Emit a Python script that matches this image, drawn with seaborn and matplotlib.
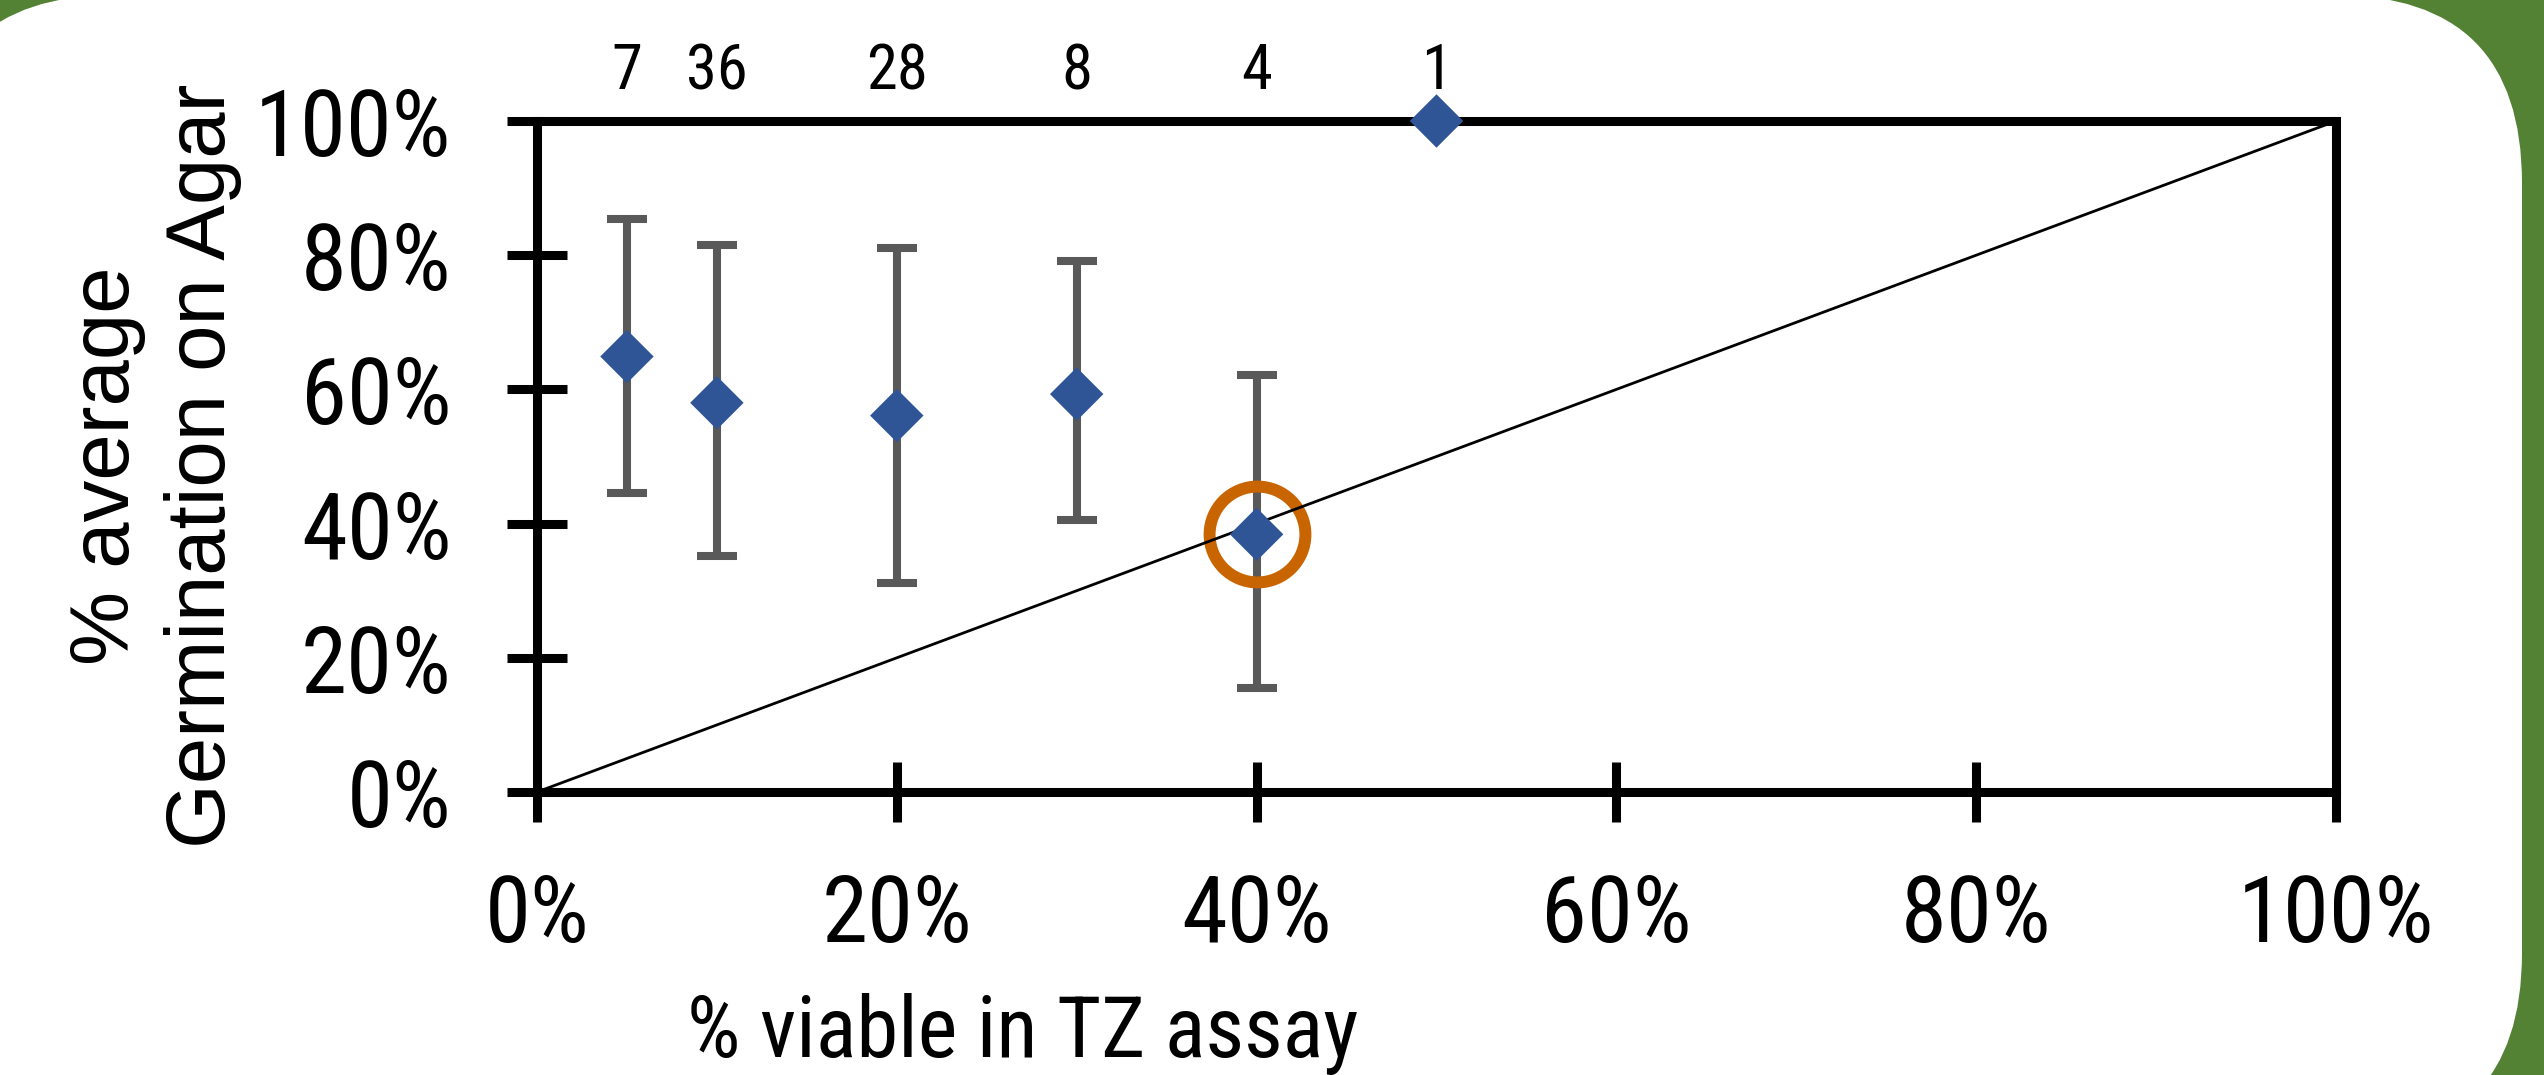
import numpy as np
import pandas as pd
import matplotlib
matplotlib.use("Agg")
import matplotlib.pyplot as plt
import seaborn as sns
from matplotlib import font_manager as fm
from matplotlib.patches import FancyBboxPatch

# ---------------- data ----------------
viability = [5, 10, 20, 30, 40, 50]                 # % viable in TZ assay
germination = [64.9, 58.0, 56.1, 59.3, 38.4, 100.0]  # % average germination on agar
err_lower = [44.5, 35.2, 31.1, 40.5, 15.5, 100.0]
err_upper = [85.4, 81.5, 81.0, 79.1, 62.1, 100.0]
sample_counts = ["7", "36", "28", "8", "4", "1"]
ref_x = [0, 100]
ref_y = [0, 100]
highlight_x = [40]
highlight_y = [38.4]
tick_values = [0, 20, 40, 60, 80, 100]
tick_labels = ["0%", "20%", "40%", "60%", "80%", "100%"]
x_title = "% viable in TZ assay"
y_title = "% average\nGermination on Agar"

# ---------------- style ----------------
sns.set_theme(style="white")
names = {f.name for f in fm.fontManager.ttflist}
narrow = next((n for n in ["Liberation Sans Narrow", "DejaVu Sans Condensed",
                           "Roboto Condensed", "Liberation Sans"] if n in names), "DejaVu Sans")
regular = "Liberation Sans" if "Liberation Sans" in names else "DejaVu Sans"
plt.rcParams["font.family"] = [narrow, "DejaVu Sans"]

GREEN = "#548235"
BLUE = "#2F5597"
GREY = "#595959"
ORANGE = "#C96500"

W, H = 2544, 1075
fig = plt.figure(figsize=(W / 100, H / 100), dpi=100, facecolor=GREEN)

# background rounded white panel (pixel coordinates)
bg = fig.add_axes([0, 0, 1, 1])
bg.set_xlim(0, W)
bg.set_ylim(0, H)
bg.axis("off")
L, R, T, B, rad = -73, 2522, -5, 1141, 188
bg.add_patch(FancyBboxPatch((L, H - B), R - L, B - T,
                            boxstyle=f"round,pad=0,rounding_size={rad}",
                            fc="white", ec="none"))

# main axes
ax_l, ax_r, ax_t, ax_b = 537, 2336, 121, 792
ax = fig.add_axes([ax_l / W, (H - ax_b) / H, (ax_r - ax_l) / W, (ax_b - ax_t) / H])
ax.set_facecolor("none")

df = pd.DataFrame({"v": viability, "g": germination,
                   "lo": err_lower, "hi": err_upper, "n": sample_counts})
has_err = df["hi"] > df["lo"]
d_err = df[has_err]
ax.errorbar(d_err["v"], d_err["g"],
            yerr=[d_err["g"] - d_err["lo"], d_err["hi"] - d_err["g"]],
            fmt="none", ecolor=GREY, elinewidth=5.8, capsize=14.5, capthick=5.8,
            zorder=3, clip_on=False)

ax.plot(highlight_x, highlight_y, "o", mfc="none", mec=ORANGE, ms=69, mew=8.6,
        zorder=4, clip_on=False)

sns.lineplot(x=ref_x, y=ref_y, color="black", linewidth=2.0, ax=ax, zorder=5)

sns.scatterplot(data=df, x="v", y="g", marker="D", s=740, color=BLUE,
                edgecolor="none", linewidth=0, ax=ax, zorder=6, clip_on=False)

for xv, lab in zip(viability, sample_counts):
    ax.annotate(lab, xy=(xv, 100), xycoords=("data", "data"),
                xytext=(0, 23), textcoords="offset points",
                ha="center", va="baseline", fontsize=45, color="black")

ax.set_xlim(0, 100)
ax.set_ylim(0, 100)
ax.set_xticks(tick_values)
ax.set_xticklabels(tick_labels)
ax.set_yticks(tick_values)
ax.set_yticklabels(tick_labels)
ax.tick_params(axis="both", direction="inout", length=43, width=6.5,
               color="black", labelsize=67, labelcolor="black",
               top=False, right=False, bottom=True, left=True)
ax.tick_params(axis="x", pad=36)
ax.tick_params(axis="y", pad=40)
for s in ax.spines.values():
    s.set_visible(True)
    s.set_color("black")
    s.set_linewidth(6.5)

ax.set_xlabel(x_title, fontsize=61, color="black")
ax.xaxis.label.set_va("baseline")
ax.xaxis.set_label_coords((1023 - ax_l) / (ax_r - ax_l), (ax_b - 1057) / (ax_b - ax_t))

ax.set_ylabel(y_title, fontsize=60, color="black", family=[regular, "DejaVu Sans"],
              linespacing=1.3)
ax.yaxis.set_label_coords((242 - ax_l) / (ax_r - ax_l), (ax_b - 466) / (ax_b - ax_t))

fig.savefig("out.png", dpi=100, facecolor=GREEN)
